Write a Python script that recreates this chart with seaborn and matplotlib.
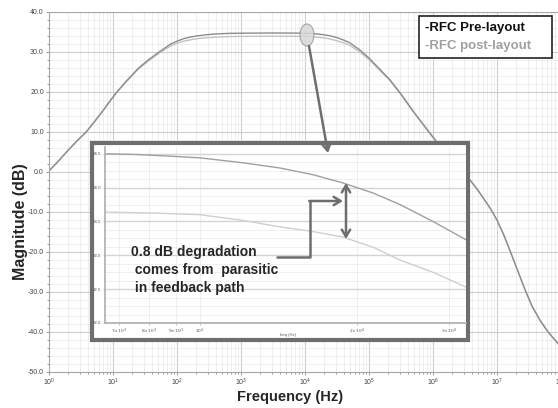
import numpy as np
import pandas as pd
import matplotlib
matplotlib.use("Agg")
import matplotlib.pyplot as plt
import seaborn as sns
from matplotlib.patches import Rectangle, Ellipse, FancyArrowPatch
from matplotlib.lines import Line2D
from matplotlib.ticker import LogLocator, MultipleLocator, FixedLocator, NullFormatter, NullLocator

# respuesta en frecuencia (lectura del grafico), frecuencia como exponente de 10
freq_exp = [0.0, 0.15, 0.30, 0.45, 0.58, 0.72, 0.85, 0.95, 1.06, 1.20, 1.30, 1.40,
            1.55, 1.72, 1.82, 1.90, 2.00, 2.10, 2.20, 2.30, 2.45, 2.60, 2.80, 3.00,
            3.50, 3.80, 4.00, 4.15, 4.25, 4.38, 4.50, 4.60, 4.70, 4.85, 5.00, 5.15,
            5.33, 5.50, 5.70, 5.90, 6.06, 6.20, 6.35, 6.47, 6.58, 6.70, 6.80, 6.90,
            7.00, 7.10, 7.20, 7.32, 7.44, 7.55, 7.67, 7.80, 7.95, 8.00]
pre_db = [0.3, 2.8, 5.5, 8.0, 10.0, 12.8, 15.5, 17.7, 20.0, 22.6, 24.3, 26.0,
          28.0, 30.0, 31.1, 32.0, 32.7, 33.3, 33.7, 34.0, 34.3, 34.5, 34.65, 34.7,
          34.75, 34.73, 34.7, 34.58, 34.4, 34.1, 33.6, 33.0, 32.3, 30.6, 28.5, 26.0,
          23.0, 19.5, 15.0, 10.8, 7.5, 5.0, 2.8, 0.5, -2.0, -4.5, -6.8, -9.2,
          -12.0, -15.5, -19.5, -24.5, -29.5, -33.6, -37.0, -40.0, -42.8, -43.5]
post_db = [0.2, 2.7, 5.4, 7.9, 9.9, 12.7, 15.4, 17.6, 19.9, 22.4, 24.1, 25.8,
           27.7, 29.7, 30.7, 31.5, 32.2, 32.7, 33.0, 33.3, 33.55, 33.7, 33.85, 33.9,
           33.95, 33.93, 33.9, 33.78, 33.6, 33.3, 32.8, 32.3, 31.7, 30.1, 28.1, 25.7,
           22.8, 19.3, 14.85, 10.7, 7.4, 4.9, 2.7, 0.4, -2.1, -4.6, -6.9, -9.3,
           -12.1, -15.6, -19.6, -24.6, -29.6, -33.7, -37.1, -40.1, -42.9, -43.6]
freq_hz = [10 ** e for e in freq_exp]

# zoom (inset)
zoom_freq = [6580, 7500, 8500, 10000, 12000, 14250, 16500, 18800, 21500, 24200, 28000, 32400]
zoom_pre = [34.50, 34.49, 34.47, 34.44, 34.37, 34.29, 34.19, 34.07, 33.92, 33.75, 33.50, 33.23]
zoom_post = [33.64, 33.63, 33.62, 33.60, 33.52, 33.42, 33.35, 33.27, 33.12, 32.93, 32.75, 32.53]
zoom_ticks = [7000, 8000, 9000, 10000, 20000, 30000]
zoom_tick_labels = [r'$7{\times}10^3$', r'$8{\times}10^3$', r'$9{\times}10^3$',
                    r'$10^4$', r'$2{\times}10^4$', r'$3{\times}10^4$']

sns.set_theme(style="whitegrid")
plt.rcParams['font.family'] = ['Liberation Sans', 'DejaVu Sans']

W, H = 558, 408
fig = plt.figure(figsize=(W / 100, H / 100), dpi=100)
fig.patch.set_facecolor('white')


def fx(x):
    return x / W


def fy(y):
    return 1 - y / H


GRIS = '#6e6e6e'

# --- grafico principal ---
ax = fig.add_axes([fx(49), fy(372), 512 / W, 360 / H])
ax.set_facecolor('white')
sns.lineplot(x=freq_hz, y=post_db, ax=ax, color='#c2c2c2', lw=1.0)
sns.lineplot(x=freq_hz, y=pre_db, ax=ax, color='#8c8c8c', lw=1.0)
ax.set_xscale('log')
ax.set_xlim(1, 1e8)
ax.set_ylim(-50, 40)
ax.yaxis.set_major_locator(MultipleLocator(10))
ax.yaxis.set_minor_locator(MultipleLocator(2))
ax.yaxis.set_major_formatter(matplotlib.ticker.FormatStrFormatter('%.1f'))
ax.xaxis.set_major_locator(LogLocator(base=10, numticks=20))
ax.xaxis.set_minor_locator(LogLocator(base=10, subs=np.arange(2, 10), numticks=100))
ax.xaxis.set_minor_formatter(NullFormatter())
ax.grid(which='major', color='#cdcdcd', lw=0.8)
ax.grid(which='minor', color='#ebebeb', lw=0.6)
ax.tick_params(which='both', labelsize=5, labelcolor='#444444', color='#888888',
               direction='out', length=2.5, width=0.6, pad=1.2, bottom=True, left=True)
ax.tick_params(which='minor', length=1.5)
for s in ax.spines.values():
    s.set_color('#a8a8a8')
    s.set_linewidth(0.8)
ax.set_xlabel('')
ax.set_ylabel('')

fig.text(fx(21), fy(222), 'Magnitude (dB)', rotation=90, fontsize=11.5,
         fontweight='bold', ha='center', va='center')
fig.text(fx(290), fy(397), 'Frequency (Hz)', fontsize=10.5,
         fontweight='bold', ha='center', va='center')

# leyenda
fig.patches.append(Rectangle((fx(419), fy(58)), (552 - 419) / W, 42 / H,
                             transform=fig.transFigure, facecolor='white',
                             edgecolor='#222222', lw=1.2, zorder=2))
fig.text(fx(425), fy(28), '-RFC Pre-layout', fontsize=9.5, fontweight='bold',
         color='#111111', va='center', zorder=3)
fig.text(fx(425), fy(46), '-RFC post-layout', fontsize=9.5, fontweight='bold',
         color='#a0a0a0', va='center', zorder=3)

# --- recuadro del zoom ---
fig.patches.append(Rectangle((fx(92), fy(340)), (468 - 92) / W, (340 - 143) / H,
                             transform=fig.transFigure, facecolor='white',
                             edgecolor=GRIS, lw=3, zorder=2))

axi = fig.add_axes([fx(105), fy(323), (466 - 105) / W, (323 - 147) / H], zorder=3)
axi.set_facecolor('white')
sns.lineplot(x=zoom_freq, y=zoom_post, ax=axi, color='#cfcfcf', lw=1.0)
sns.lineplot(x=zoom_freq, y=zoom_pre, ax=axi, color='#a0a0a0', lw=1.0)
axi.set_xscale('log')
axi.set_xlim(6580, 32400)
axi.set_ylim(32.0, 34.6)
axi.xaxis.set_major_locator(FixedLocator(zoom_ticks))
axi.xaxis.set_major_formatter(matplotlib.ticker.FixedFormatter(zoom_tick_labels))
axi.xaxis.set_minor_locator(NullLocator())
axi.yaxis.set_major_locator(MultipleLocator(0.5))
axi.yaxis.set_minor_locator(MultipleLocator(0.125))
axi.yaxis.set_major_formatter(matplotlib.ticker.FormatStrFormatter('%.1f'))
axi.grid(which='major', axis='y', color='#d4d4d4', lw=1.0)
axi.grid(which='minor', axis='y', color='#ececec', lw=0.6)
axi.grid(which='major', axis='x', color='#ececec', lw=0.6)
axi.tick_params(which='both', labelsize=3.2, labelcolor='#555555', color='#999999',
                direction='out', length=1.5, width=0.4, pad=1, bottom=True, left=True)
axi.tick_params(which='minor', length=0)
axi.spines['top'].set_visible(False)
axi.spines['right'].set_visible(False)
axi.spines['left'].set_color('#b0b0b0')
axi.spines['bottom'].set_color('#b0b0b0')
axi.set_xlabel('')
axi.set_ylabel('')
fig.text(fx(288), fy(335), 'freq (Hz)', fontsize=3, color='#555555',
         ha='center', va='center', zorder=4)

# --- anotaciones ---
fig.patches.append(Ellipse((fx(307), fy(35)), 14 / W, 22 / H, transform=fig.transFigure,
                           facecolor='#d8d8d8', edgecolor='#9a9a9a', lw=0.8,
                           alpha=0.85, zorder=4))
fig.patches.append(FancyArrowPatch((fx(309), fy(46)), (fx(328), fy(153)),
                                   transform=fig.transFigure, color=GRIS, lw=1.8,
                                   arrowstyle='->,head_length=5,head_width=3',
                                   mutation_scale=1, shrinkA=0, shrinkB=0, zorder=5))
fig.patches.append(FancyArrowPatch((fx(346), fy(183)), (fx(346), fy(239)),
                                   transform=fig.transFigure, color=GRIS, lw=1.8,
                                   arrowstyle='<->,head_length=5,head_width=3',
                                   mutation_scale=1, shrinkA=0, shrinkB=0, zorder=5))
fig.lines.append(Line2D([fx(277), fx(310), fx(310)], [fy(257), fy(257), fy(201)],
                        transform=fig.transFigure, color=GRIS, lw=1.8, zorder=5))
fig.patches.append(FancyArrowPatch((fx(309.2), fy(201)), (fx(343), fy(201)),
                                   transform=fig.transFigure, color=GRIS, lw=1.8,
                                   arrowstyle='->,head_length=5,head_width=3',
                                   mutation_scale=1, shrinkA=0, shrinkB=0, zorder=5))

fig.text(fx(131), fy(252), '0.8 dB degradation', fontsize=10, fontweight='bold',
         va='center', zorder=6)
fig.text(fx(131), fy(270), ' comes from  parasitic', fontsize=10, fontweight='bold',
         va='center', zorder=6)
fig.text(fx(131), fy(288), ' in feedback path', fontsize=10, fontweight='bold',
         va='center', zorder=6)

fig.savefig('out.png', dpi=100)
